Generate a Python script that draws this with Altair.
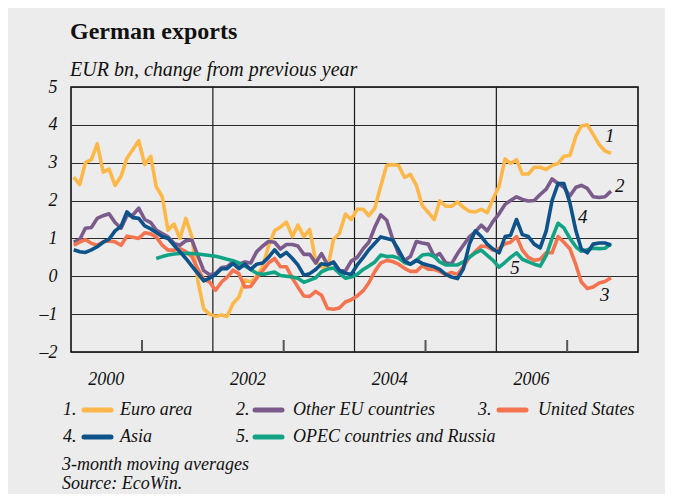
import altair as alt
import pandas as pd

# ---------------- data (EUR bn, change from previous year; 3-month moving averages) ----------------
euro_area = [
    2.62, 2.42, 3.0, 3.08, 3.5, 2.75, 2.83, 2.4, 2.64, 3.12,
    3.35, 3.58, 2.95, 3.17, 2.37, 2.1, 1.22, 1.38, 1.0, 1.53,
    1.04, -0.1, -0.86, -1.0, -1.06, -1.02, -1.06, -0.72, -0.55, -0.1,
    -0.15, 0.0, 0.25, 0.8, 1.2, 1.3, 1.43, 1.05, 1.35, 1.05,
    1.24, 0.4, 0.25, 0.2, 0.98, 1.13, 1.64, 1.5, 1.77, 1.77,
    1.6, 1.8, 2.38, 2.93, 2.95, 2.93, 2.61, 2.69, 2.4, 1.87,
    1.69, 1.5, 1.99, 1.85, 1.85, 1.96, 1.82, 1.72, 1.7, 1.77,
    1.68, 2.05, 2.38, 3.1, 2.98, 3.08, 2.7, 2.7, 2.88, 2.88,
    2.82, 2.93, 2.98, 3.17, 3.19, 3.7, 3.97, 4.0, 3.75, 3.48,
    3.31, 3.25,
]
other_eu = [
    0.9, 0.97, 1.27, 1.29, 1.53, 1.6, 1.65, 1.42, 1.27, 1.6,
    1.62, 1.8, 1.5, 1.42, 1.22, 1.13, 1.04, 0.87, 0.82, 0.94,
    0.96, 0.55, 0.15, 0.04, 0.07, 0.23, 0.25, 0.38, 0.32, 0.38,
    0.35, 0.65, 0.8, 0.92, 0.9, 0.72, 0.84, 0.84, 0.8, 0.58,
    0.58, 0.35, 0.6, 0.3, 0.38, 0.15, 0.14, 0.4, 0.5, 0.73,
    0.9, 1.3, 1.62, 1.48, 1.0, 0.6, 0.42, 0.52, 0.92, 0.88,
    0.85, 0.52, 0.6, 0.36, 0.33, 0.6, 0.82, 1.04, 1.18, 1.35,
    1.2, 1.45, 1.65, 1.9, 2.0, 2.1, 2.03, 1.99, 2.0, 2.16,
    2.3, 2.57, 2.45, 2.35, 2.12, 2.35, 2.4, 2.32, 2.1, 2.08,
    2.1, 2.25,
]
united_states = [
    0.82, 0.9, 0.97, 0.87, 0.82, 0.91, 0.93, 0.91, 0.82, 1.06,
    1.03, 1.0, 1.15, 1.12, 1.04, 0.82, 0.69, 0.69, 0.73, 0.65,
    0.52, 0.2, -0.08, -0.15, -0.37, -0.15, -0.03, 0.16, 0.07, -0.28,
    -0.27, -0.05, 0.15, 0.35, 0.47, 0.25, 0.25, -0.05, -0.28, -0.52,
    -0.53, -0.4, -0.5, -0.85, -0.87, -0.84, -0.68, -0.62, -0.52, -0.38,
    -0.17, 0.13, 0.35, 0.42, 0.39, 0.32, 0.21, 0.13, 0.13, 0.28,
    0.19, 0.18, 0.13, 0.04, 0.1, 0.05, 0.25, 0.5, 0.65, 0.8,
    0.78, 0.69, 0.73, 0.86, 0.9, 1.05, 0.69, 0.5, 0.42, 0.45,
    0.62, 0.62, 1.05, 0.9, 0.73, 0.3, -0.15, -0.32, -0.28, -0.18,
    -0.14, -0.04,
]
asia = [
    0.7, 0.65, 0.63, 0.7, 0.78, 0.9, 0.98, 1.2, 1.32, 1.7,
    1.55, 1.53, 1.33, 1.25, 1.16, 1.05, 1.0, 0.82, 0.65, 0.47,
    0.27, 0.08, -0.12, -0.05, 0.05, 0.2, 0.2, 0.34, 0.2, 0.32,
    0.18, 0.32, 0.35, 0.5, 0.7, 0.52, 0.63, 0.47, 0.3, 0.03,
    0.07, 0.18, 0.33, 0.3, 0.37, 0.15, 0.08, 0.05, 0.3, 0.5,
    0.7, 0.87, 1.04, 1.0, 0.96, 0.7, 0.4, 0.32, 0.42, 0.34,
    0.29, 0.25, 0.18, 0.05, -0.02, -0.06, 0.2, 0.85, 1.2, 1.05,
    0.85, 0.72, 0.62, 1.05, 1.08, 1.5, 1.1, 1.05, 0.85, 0.75,
    1.2, 2.0, 2.45, 2.45, 1.94, 1.2, 0.72, 0.62, 0.85, 0.88,
    0.88, 0.82,
]
# OPEC series starts in March 2001 (14 months after the others)
opec_russia = [
    0.47, 0.52, 0.56, 0.59, 0.6, 0.61,
    0.6, 0.59, 0.57, 0.55, 0.53, 0.49, 0.45, 0.41, 0.35, 0.27,
    0.18, 0.08, 0.05, 0.08, 0.11, 0.02, 0.0, -0.02, -0.05, -0.16,
    -0.1, -0.04, 0.12, 0.19, 0.22, 0.08, -0.05, -0.02, 0.05, 0.18,
    0.27, 0.38, 0.56, 0.52, 0.53, 0.48, 0.36, 0.32, 0.42, 0.56,
    0.58, 0.53, 0.38, 0.3, 0.3, 0.3, 0.38, 0.5, 0.62, 0.69,
    0.55, 0.42, 0.24, 0.37, 0.5, 0.62, 0.45, 0.38, 0.32, 0.27,
    0.55, 1.0, 1.4, 1.28, 1.0, 0.78, 0.66, 0.7, 0.74, 0.73,
    0.74, 0.86,
]

series_names = ["Euro area", "Other EU countries", "United States", "Asia",
                "OPEC countries and Russia"]
series_numbers = ["1.", "2.", "3.", "4.", "5."]
series_colors = ["#FDB849", "#7B5B8B", "#F3744F", "#0D5289", "#12A384"]
series_values = [euro_area, other_eu, united_states, asia, opec_russia]
draw_order = [0, 1, 2, 4, 3]

# line-end annotations
annot_text = ["1", "2", "3", "4", "5"]
annot_date = ["2007-08-08", "2007-09-29", "2007-07-14", "2007-03-22", "2006-04-07"]
annot_value = [3.70, 2.38, -0.50, 1.56, 0.21]

year_labels = ["2000", "2002", "2004", "2006"]
year_label_dates = ["2000-07-01", "2002-07-01", "2004-07-01", "2006-07-01"]
grid_year_dates = ["2002-01-01", "2004-01-01", "2006-01-01"]
tick_year_dates = ["2001-01-01", "2003-01-01", "2005-01-01", "2007-01-01"]

title_text = "German exports"
subtitle_text = "EUR bn, change from previous year"
notes = ["3-month moving averages", "Source: EcoWin."]

# ---------------- layout (pixels, plot-area coordinates) ----------------
W, H = 567, 265
FONT = "Liberation Serif"
TXT = "#111111"
leg_row_y = [323, 323, 323, 350, 350]
leg_num_x = [-8, 165, 407, -8, 165]
leg_sw_x = [13, 184, 428, 13, 184]
leg_sw_len = 27
leg_lab_x = [49, 222, 467, 49, 222]
notes_y = [378, 397]
notes_x = -9

n_months = len(euro_area)
month_starts = pd.date_range("2000-01-01", periods=n_months, freq="MS")
all_dates = [(d + pd.Timedelta(days=14)).strftime("%Y-%m-%d") for d in month_starts]

x_scale = alt.Scale(
    type="utc",
    domain=[alt.DateTime(year=2000, month=1, date=1, utc=True),
            alt.DateTime(year=2008, month=1, date=1, utc=True)],
)
y_scale = alt.Scale(domain=[-2, 5], nice=False, zero=False)
y_axis = alt.Axis(
    values=list(range(-2, 6)),
    labelExpr="datum.value < 0 ? '\u2013' + abs(datum.value) : '' + datum.value",
    grid=True, gridColor="#2a2a2a", gridWidth=1, domain=False, ticks=False,
    labelPadding=14, labelFontSize=18, labelFont=FONT, labelFontStyle="italic",
    labelColor=TXT, title=None,
)

X = alt.X("date:T", scale=x_scale, axis=None)
Y = alt.Y("value:Q", scale=y_scale, axis=y_axis)

layers = []

# vertical year lines and small odd-year ticks
layers.append(
    alt.Chart(pd.DataFrame({"date": grid_year_dates}))
    .mark_rule(color="#1a1a1a", strokeWidth=1.2)
    .encode(x=X, y=alt.value(0), y2=alt.value(H))
)
layers.append(
    alt.Chart(pd.DataFrame({"date": tick_year_dates}))
    .mark_rule(color="#555555", strokeWidth=2)
    .encode(x=X, y=alt.value(H - 12), y2=alt.value(H))
)

# series lines
for i in draw_order:
    vals = series_values[i]
    d = all_dates[n_months - len(vals):]
    df = pd.DataFrame({"date": d, "value": vals})
    layers.append(
        alt.Chart(df)
        .mark_line(color=series_colors[i], strokeWidth=3.6, strokeJoin="round")
        .encode(x=X, y=Y)
    )

# numbers next to the lines
layers.append(
    alt.Chart(pd.DataFrame({"date": annot_date, "value": annot_value, "t": annot_text}))
    .mark_text(font=FONT, fontStyle="italic", fontSize=19, color=TXT, baseline="middle")
    .encode(x=X, y=Y, text="t:N")
)

# year labels
layers.append(
    alt.Chart(pd.DataFrame({"date": year_label_dates, "t": year_labels}))
    .mark_text(font=FONT, fontStyle="italic", fontSize=18, color=TXT, baseline="middle")
    .encode(x=X, y=alt.value(H + 28), text="t:N")
)

# title and subtitle
layers.append(
    alt.Chart(pd.DataFrame({"t": [title_text]}))
    .mark_text(font=FONT, fontWeight="bold", fontSize=24, color=TXT, align="left",
               baseline="alphabetic")
    .encode(x=alt.value(-1), y=alt.value(-48), text="t:N")
)
layers.append(
    alt.Chart(pd.DataFrame({"t": [subtitle_text]}))
    .mark_text(font=FONT, fontStyle="italic", fontSize=20, color=TXT, align="left",
               baseline="alphabetic")
    .encode(x=alt.value(-1), y=alt.value(-11), text="t:N")
)

# legend
leg = pd.DataFrame({
    "num": series_numbers, "name": series_names, "color": series_colors,
    "ny": leg_row_y, "nx": leg_num_x, "sx": leg_sw_x,
    "sx2": [v + leg_sw_len for v in leg_sw_x], "lx": leg_lab_x,
})
layers.append(
    alt.Chart(leg).mark_rule(strokeWidth=5, strokeCap="round").encode(
        x=alt.X("sx:Q", scale=None, axis=None), x2="sx2:Q",
        y=alt.Y("ny:Q", scale=None, axis=None),
        color=alt.Color("color:N", scale=None, legend=None),
    )
)
layers.append(
    alt.Chart(leg).mark_text(font=FONT, fontStyle="italic", fontSize=18, color=TXT,
                             align="left", baseline="middle").encode(
        x=alt.X("nx:Q", scale=None, axis=None), y=alt.Y("ny:Q", scale=None, axis=None),
        text="num:N",
    )
)
layers.append(
    alt.Chart(leg).mark_text(font=FONT, fontStyle="italic", fontSize=18, color=TXT,
                             align="left", baseline="middle").encode(
        x=alt.X("lx:Q", scale=None, axis=None), y=alt.Y("ny:Q", scale=None, axis=None),
        text="name:N",
    )
)
layers.append(
    alt.Chart(pd.DataFrame({"t": notes, "ny": notes_y})).mark_text(
        font=FONT, fontStyle="italic", fontSize=18, color=TXT, align="left",
        baseline="middle").encode(
        x=alt.value(notes_x), y=alt.Y("ny:Q", scale=None, axis=None), text="t:N",
    )
)

chart = (
    alt.layer(*layers)
    .properties(
        width=W, height=H,
        autosize=alt.AutoSizeParams(type="none"),
        padding={"left": 63, "top": 79, "right": 27, "bottom": 142},
        background="#ececec",
    )
    .configure_view(stroke="#000000", strokeWidth=1.5)
)

chart.save("out.html", embed_options={"renderer": "svg", "actions": False})
